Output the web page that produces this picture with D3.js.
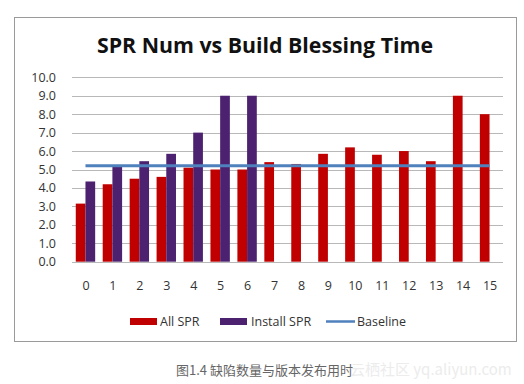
<!DOCTYPE html>
<html><head><meta charset="utf-8">
<script src="https://cdn.jsdelivr.net/npm/d3@7"></script>
<style>html,body{margin:0;padding:0;background:#fff;}</style>
</head><body>
<svg id="c" width="524" height="384"></svg>
<script>
const categories = ["0","1","2","3","4","5","6","7","8","9","10","11","12","13","14","15"];
const allSPR = [3.15,4.2,4.5,4.6,5.1,5.0,5.0,5.4,5.3,5.85,6.2,5.8,6.0,5.45,9.0,8.0];
const installSPR = [4.35,5.15,5.45,5.85,7.0,9.0,9.0,0,0,0,0,0,0,0,0,0];
const baseline = 5.2;
const yTicks = [0,1,2,3,4,5,6,7,8,9,10];
const seriesNames = ["All SPR","Install SPR","Baseline"];
const colors = {"All SPR":"#C00000","Install SPR":"#4B2170","Baseline":"#4F81BD"};

const svg = d3.select("#c");
const font = "'Open Sans', 'Noto Sans', sans-serif";

// frame
svg.append("rect").attr("x",14.5).attr("y",17.5).attr("width",502).attr("height",324)
  .attr("fill","#fff").attr("stroke","#9a9a9a").attr("stroke-width",1);

svg.append("text").attr("x",265).attr("y",53).attr("text-anchor","middle")
  .attr("font-family",font).attr("font-weight","bold").attr("font-size",21)
  .attr("fill","#111").attr("textLength",336).attr("lengthAdjust","spacingAndGlyphs")
  .text("SPR Num vs Build Blessing Time");

const x = d3.scaleBand().domain(categories).range([72,503]).paddingInner(0.28).paddingOuter(0.14);
const x1 = d3.scaleBand().domain(["All SPR","Install SPR"]).range([0,x.bandwidth()]);
const y = d3.scaleLinear().domain([0,10]).range([261.7,77.3]);

// grid
svg.append("g").selectAll("line").data(yTicks).join("line")
  .attr("x1",72).attr("x2",503).attr("y1",d=>Math.round(y(d))+0.5).attr("y2",d=>Math.round(y(d))+0.5)
  .attr("stroke","#b8b8b8").attr("stroke-width",1);

// y labels
svg.append("g").selectAll("text").data(yTicks).join("text")
  .attr("x",56).attr("y",d=>y(d)+4.5).attr("text-anchor","end")
  .attr("font-family",font).attr("font-size",12.5).attr("fill","#333")
  .text(d=>d.toFixed(1));

// x labels
svg.append("g").selectAll("text").data(categories).join("text")
  .attr("x",d=>x(d)+x.bandwidth()/2 + 0.5).attr("y",290).attr("text-anchor","middle")
  .attr("font-family",font).attr("font-size",12.5).attr("fill","#333")
  .text(d=>d);

// bars
const g = svg.append("g");
categories.forEach((c,i)=>{
  [["All SPR",allSPR[i]],["Install SPR",installSPR[i]]].forEach(([s,v])=>{
    if(v<=0) return;
    g.append("rect").attr("x",x(c)+x1(s)).attr("width",x1.bandwidth())
      .attr("y",y(v)).attr("height",y(0)-y(v)).attr("fill",colors[s]);
  });
});

// baseline
const bx = d=>x(d)+x.bandwidth()/2;
svg.append("line").attr("x1",bx(categories[0])).attr("x2",bx(categories[categories.length-1]))
  .attr("y1",y(baseline)).attr("y2",y(baseline)).attr("stroke",colors["Baseline"]).attr("stroke-width",3);

// legend
const leg = svg.append("g").attr("font-family",font).attr("font-size",12.5).attr("fill","#333");
const legPos = [{sx:130,tx:160},{sx:220,tx:251},{sx:326,tx:357}];
seriesNames.forEach((s,i)=>{
  const p = legPos[i];
  if(s==="Baseline"){
    leg.append("line").attr("x1",p.sx).attr("x2",p.sx+29).attr("y1",321.5).attr("y2",321.5)
      .attr("stroke",colors[s]).attr("stroke-width",2.5);
  } else {
    leg.append("rect").attr("x",p.sx).attr("y",318).attr("width",27).attr("height",7).attr("fill",colors[s]);
  }
  leg.append("text").attr("x",p.tx).attr("y",326).text(s);
});

// caption
svg.append("text").attr("x",176).attr("y",375)
  .attr("font-family","'Noto Sans CJK SC', sans-serif").attr("font-size",13).attr("fill","#666")
  .text("图1.4 缺陷数量与版本发布用时");
svg.append("text").attr("x",350).attr("y",375)
  .attr("font-family","'Noto Sans CJK SC', sans-serif").attr("font-size",15).attr("fill","#ececec")
  .text("云栖社区 yq.aliyun.com");
</script>
</body></html>
